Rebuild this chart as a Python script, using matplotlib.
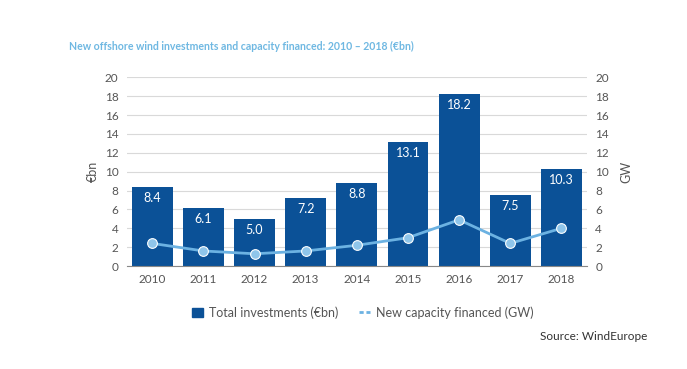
import numpy as np
import matplotlib
matplotlib.use('Agg')
import matplotlib.pyplot as plt
from matplotlib.lines import Line2D
from matplotlib.patches import Patch

years = ['2010', '2011', '2012', '2013', '2014', '2015', '2016', '2017', '2018']
investments = [8.4, 6.1, 5.0, 7.2, 8.8, 13.1, 18.2, 7.5, 10.3]
capacity_gw = [2.4, 1.6, 1.3, 1.6, 2.2, 3.0, 4.9, 2.4, 4.0]
yticks = [0, 2, 4, 6, 8, 10, 12, 14, 16, 18, 20]

bar_col = '#0b5197'
line_col = '#6cb2e2'
txt_col = '#555555'
grid_col = '#d9d9d9'

plt.rcParams['font.family'] = ['Lato', 'DejaVu Sans']

fig = plt.figure(figsize=(6.87, 3.69), dpi=100)
fig.patch.set_facecolor('white')
ax = fig.add_axes([0.1844, 0.279, 0.670, 0.5114])
ax2 = ax.twinx()

x = np.arange(len(years))
ax.bar(x, investments, width=0.8, color=bar_col, zorder=2)
for xi, v in zip(x, investments):
    ax.text(xi, v - 1.15, f'{v:.1f}', ha='center', va='center',
            color='white', fontsize=9, zorder=3)

ax2.plot(x, capacity_gw, color=line_col, lw=2, marker='o', ms=7,
         markerfacecolor='#8fc5ea', markeredgecolor='white', markeredgewidth=0.8, zorder=4)

for a in (ax, ax2):
    a.set_ylim(0, 20)
    a.set_yticks(yticks)
    for s in a.spines.values():
        s.set_visible(False)
    a.tick_params(axis='y', length=0, colors=txt_col, labelsize=8.5, pad=6)
ax.set_xlim(-0.5, len(years) - 0.5)
ax.spines['bottom'].set_visible(True)
ax.spines['bottom'].set_color('#888888')
ax.set_xticks(x)
ax.set_xticklabels(years)
ax.tick_params(axis='x', length=0, colors=txt_col, labelsize=8.5, pad=6)
ax.yaxis.grid(True, color=grid_col, lw=0.8, zorder=0)
ax.set_axisbelow(True)
ax2.set_zorder(ax.get_zorder() + 1)
ax2.patch.set_visible(False)

ax.set_ylabel('€bn', color=txt_col, fontsize=9, labelpad=4)
ax2.set_ylabel('GW', color=txt_col, fontsize=9, labelpad=8)

fig.text(0.100, 0.875, 'New offshore wind investments and capacity financed: 2010 \u2013 2018 (€bn)',
         color='#6fb8e2', fontsize=7.6, fontweight='bold', ha='left', va='center')

handles = [Patch(facecolor=bar_col, edgecolor=bar_col),
           Line2D([0], [0], color=line_col, lw=2, ls=(0, (1.5, 1)))]
fig.legend(handles, ['Total investments (€bn)', 'New capacity financed (GW)'],
           loc='center left', bbox_to_anchor=(0.263, 0.153), ncol=2, frameon=False,
           fontsize=9, labelcolor=txt_col, handlelength=0.9, handleheight=0.7,
           handletextpad=0.5, columnspacing=1.6)

fig.text(0.942, 0.087, 'Source: WindEurope', color='#333333', fontsize=8.5,
         ha='right', va='center')

fig.savefig('out.png', dpi=100)
